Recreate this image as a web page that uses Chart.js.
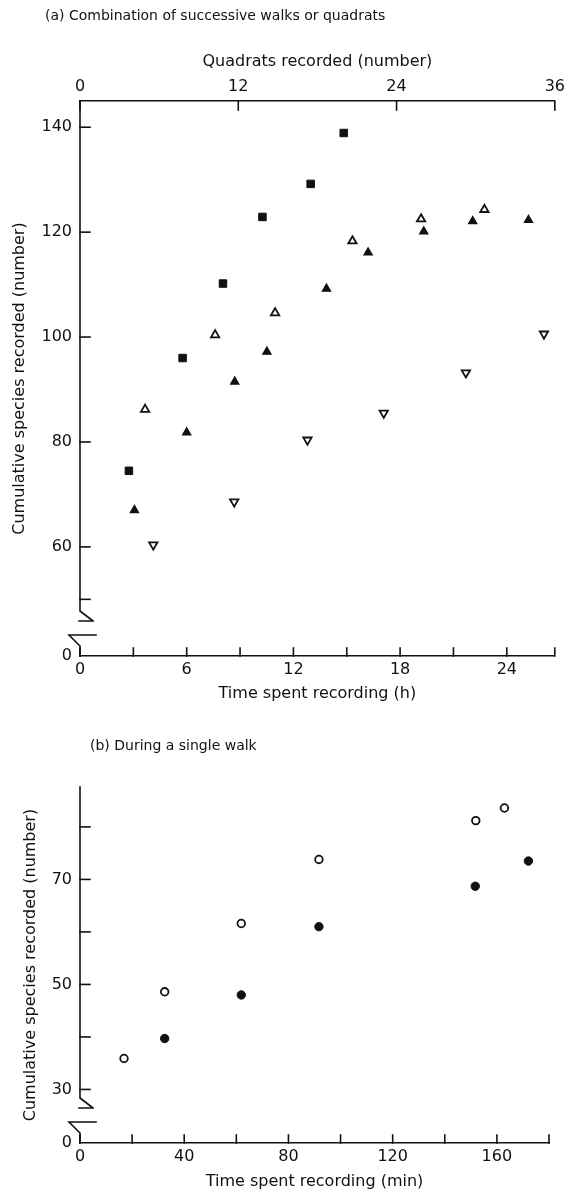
<!DOCTYPE html>
<html lang="en">
<head>
<meta charset="UTF-8">
<title>Cumulative species recorded</title>
<script src="https://cdn.jsdelivr.net/npm/chart.js"></script>
<style>
  html, body { margin: 0; padding: 0; background: #fff; }
  body { width: 570px; height: 1191px; position: relative; overflow: hidden; font-family: "DejaVu Sans", sans-serif; color: #111; }
  .caption { position: absolute; z-index: 2; font-size: 14px; line-height: 18px; white-space: nowrap; }
  .box { position: absolute; left: 0; width: 570px; }
</style>
</head>
<body>
<div class="caption" style="left:45px; top:6px">(a) Combination of successive walks or quadrats</div>
<div class="box" style="top:0; height:710px"><canvas id="chartA"></canvas></div>
<div class="caption" style="left:90px; top:736px">(b) During a single walk</div>
<div class="box" style="top:710px; height:481px"><canvas id="chartB"></canvas></div>

<script>
const INK = '#111';

// (a) successive walks or quadrats: hours recording vs cumulative species
const squareHours = [2.75, 5.77, 8.04, 10.26, 12.97, 14.83];
const squareSpecies = [74.5, 96.0, 110.2, 122.9, 129.2, 138.9];
const openUpHours = [3.66, 7.6, 10.97, 15.32, 19.18, 22.74];
const openUpSpecies = [86.2, 100.4, 104.6, 118.3, 122.5, 124.3];
const filledUpHours = [3.06, 6.0, 8.7, 10.51, 13.86, 16.2, 19.33, 22.08, 25.22];
const filledUpSpecies = [67.0, 81.8, 91.5, 97.2, 109.2, 116.1, 120.1, 122.1, 122.3];
const openDownHours = [4.12, 8.67, 12.79, 17.08, 21.7, 26.09];
const openDownSpecies = [60.4, 68.6, 80.4, 85.5, 93.2, 100.6];

const hourTicks = [0, 3, 6, 9, 12, 15, 18, 21, 24];
const hourLabels = ['0', '', '6', '', '12', '', '18', '', '24'];
const hourMax = 26.7;
const quadratTicks = [0, 12, 24, 36];
const quadratLabels = ['0', '12', '24', '36'];
const speciesTicksA = [50, 60, 80, 100, 120, 140];
const speciesLabelsA = ['', '60', '80', '100', '120', '140'];
const speciesMinA = 39.2, speciesMaxA = 145; // axis broken below 50, foot labelled 0

// (b) a single walk: minutes recording vs cumulative species
const openMinutes = [16.9, 32.5, 61.9, 91.7, 151.9, 162.9];
const openSpecies = [35.9, 48.6, 61.6, 73.8, 81.2, 83.6];
const filledMinutes = [32.5, 61.9, 91.7, 151.7, 172.1];
const filledSpecies = [39.7, 48.0, 61.0, 68.7, 73.5];

const minuteTicks = [0, 20, 40, 60, 80, 100, 120, 140, 160];
const minuteLabels = ['0', '', '40', '', '80', '', '120', '', '160'];
const minuteMax = 180;
const speciesTicksB = [30, 40, 50, 60, 70, 80];
const speciesLabelsB = ['30', '', '50', '', '70', ''];
const speciesMinB = 19.8, speciesMaxB = 87.6;

Chart.defaults.font.family = '"DejaVu Sans", sans-serif';
Chart.defaults.font.size = 16;
Chart.defaults.color = INK;

function pts(xs, ys) {
    return xs.map((x, i) => ({ x: x, y: ys[i] }));
}
function labelFrom(ticks, labels, v) {
    const i = ticks.indexOf(v);
    return i < 0 ? '' : labels[i];
}

// tick marks point into the plot, y axis drawn with a break near its foot
const inwardTicks = {
    id: 'inwardTicks',
    afterDatasetsDraw(chart) {
        const ctx = chart.ctx;
        const area = chart.chartArea;
        ctx.save();
        ctx.strokeStyle = INK;
        ctx.lineWidth = 1.6;
        ctx.lineCap = 'square';
        Object.values(chart.scales).forEach(scale => {
            scale.ticks.forEach(t => {
                const p = scale.getPixelForValue(t.value);
                ctx.beginPath();
                if (scale.position === 'bottom') {
                    ctx.moveTo(p, scale.top);
                    ctx.lineTo(p, scale.top - 8);
                } else if (scale.position === 'top') {
                    ctx.moveTo(p, scale.bottom);
                    ctx.lineTo(p, scale.bottom + 9);
                } else {
                    if (t.value === scale.min) return;
                    ctx.moveTo(scale.right, p);
                    ctx.lineTo(scale.right + 10, p);
                }
                ctx.stroke();
            });
        });
        const y = chart.scales.y;
        const x0 = y.right, yb = y.bottom;
        ctx.beginPath();
        ctx.moveTo(x0, area.top);
        ctx.lineTo(x0, yb - 45);
        ctx.lineTo(x0 + 13, yb - 35);
        ctx.moveTo(x0 - 1, yb - 35);
        ctx.lineTo(x0 + 13, yb - 35);
        ctx.moveTo(x0 + 16, yb - 21);
        ctx.lineTo(x0 - 11, yb - 21);
        ctx.lineTo(x0, yb - 10);
        ctx.lineTo(x0, yb);
        ctx.stroke();
        ctx.restore();
    }
};

const noGrid = { display: false, drawTicks: false };
const axisLine = { display: true, color: INK, width: 1.6 };

new Chart(document.getElementById('chartA'), {
    type: 'scatter',
    data: {
        datasets: [
            { data: pts(squareHours, squareSpecies), pointStyle: 'rect', pointRadius: 5.3,
              backgroundColor: INK, borderColor: INK, borderWidth: 1 },
            { data: pts(openUpHours, openUpSpecies), pointStyle: 'triangle', pointRadius: 4.8,
              backgroundColor: '#fff', borderColor: INK, borderWidth: 1.8 },
            { data: pts(filledUpHours, filledUpSpecies), pointStyle: 'triangle', pointRadius: 4.8,
              backgroundColor: INK, borderColor: INK, borderWidth: 1.2 },
            { data: pts(openDownHours, openDownSpecies), pointStyle: 'triangle', pointRotation: 180, pointRadius: 4.8,
              backgroundColor: '#fff', borderColor: INK, borderWidth: 1.8 }
        ]
    },
    options: {
        responsive: true,
        maintainAspectRatio: false,
        animation: false,
        events: [],
        layout: { padding: { top: 0, right: 11, bottom: 0, left: 0 } },
        plugins: { legend: { display: false }, tooltip: { enabled: false } },
        scales: {
            x: {
                type: 'linear', position: 'bottom', min: 0, max: hourMax,
                grid: noGrid, border: axisLine,
                afterBuildTicks: s => { s.ticks = [...hourTicks, hourMax].map(v => ({ value: v })); },
                afterFit: s => { s.height = 54; },
                ticks: { autoSkip: false, maxRotation: 0, padding: 4,
                         callback: v => labelFrom(hourTicks, hourLabels, v) },
                title: { display: true, text: 'Time spent recording (h)', padding: { top: 0, bottom: 7 } }
            },
            x2: {
                type: 'linear', position: 'top', min: 0, max: quadratTicks[3],
                grid: noGrid, border: axisLine,
                afterBuildTicks: s => { s.ticks = quadratTicks.map(v => ({ value: v })); },
                afterFit: s => { s.height = 101; },
                ticks: { autoSkip: false, maxRotation: 0, padding: 5,
                         callback: v => labelFrom(quadratTicks, quadratLabels, v) },
                title: { display: true, text: 'Quadrats recorded (number)', padding: { top: 52, bottom: 0 } }
            },
            y: {
                type: 'linear', position: 'left', min: speciesMinA, max: speciesMaxA,
                grid: noGrid, border: { display: false },
                afterBuildTicks: s => { s.ticks = [speciesMinA, ...speciesTicksA].map(v => ({ value: v })); },
                afterFit: s => { s.width = 80; },
                ticks: { autoSkip: false, padding: 8,
                         callback: v => v === speciesMinA ? '0' : labelFrom(speciesTicksA, speciesLabelsA, v) },
                title: { display: true, text: 'Cumulative species recorded (number)', padding: { top: 10, bottom: 0 } }
            }
        }
    },
    plugins: [inwardTicks]
});

new Chart(document.getElementById('chartB'), {
    type: 'scatter',
    data: {
        datasets: [
            { data: pts(openMinutes, openSpecies), pointStyle: 'circle', pointRadius: 3.8,
              backgroundColor: '#fff', borderColor: INK, borderWidth: 1.8 },
            { data: pts(filledMinutes, filledSpecies), pointStyle: 'circle', pointRadius: 4.2,
              backgroundColor: INK, borderColor: INK, borderWidth: 1 }
        ]
    },
    options: {
        responsive: true,
        maintainAspectRatio: false,
        animation: false,
        events: [],
        layout: { padding: { top: 77, right: 21, bottom: 0, left: 0 } },
        plugins: { legend: { display: false }, tooltip: { enabled: false } },
        scales: {
            x: {
                type: 'linear', position: 'bottom', min: 0, max: minuteMax,
                grid: noGrid, border: axisLine,
                afterBuildTicks: s => { s.ticks = [...minuteTicks, minuteMax].map(v => ({ value: v })); },
                afterFit: s => { s.height = 48; },
                ticks: { autoSkip: false, maxRotation: 0, padding: 4,
                         callback: v => labelFrom(minuteTicks, minuteLabels, v) },
                title: { display: true, text: 'Time spent recording (min)', padding: { top: 0, bottom: 0 } }
            },
            y: {
                type: 'linear', position: 'left', min: speciesMinB, max: speciesMaxB,
                grid: noGrid, border: { display: false },
                afterBuildTicks: s => { s.ticks = [speciesMinB, ...speciesTicksB].map(v => ({ value: v })); },
                afterFit: s => { s.width = 80; },
                ticks: { autoSkip: false, padding: 8,
                         callback: v => v === speciesMinB ? '0' : labelFrom(speciesTicksB, speciesLabelsB, v) },
                title: { display: true, text: 'Cumulative species recorded (number)', padding: { top: 21, bottom: 0 } }
            }
        }
    },
    plugins: [inwardTicks]
});
</script>
</body>
</html>
